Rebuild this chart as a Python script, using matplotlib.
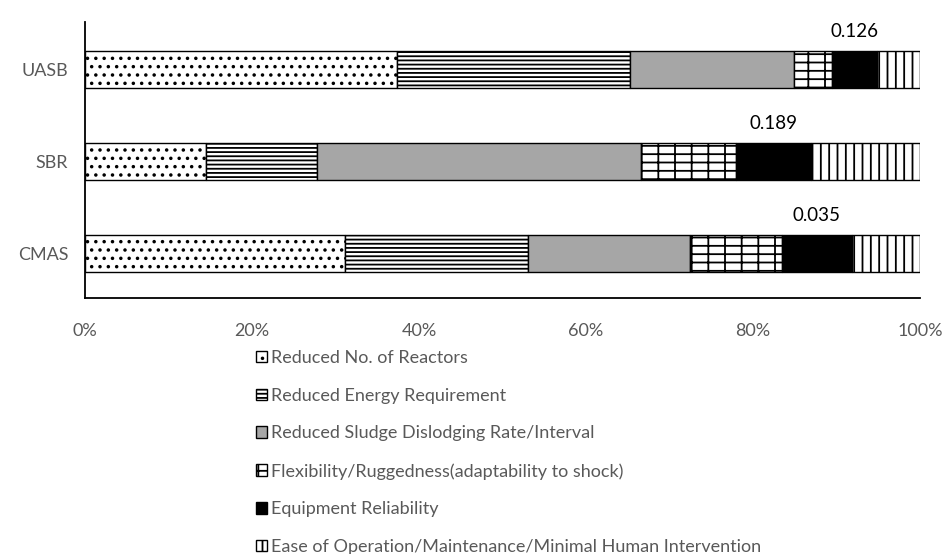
import numpy as np
import matplotlib
matplotlib.use("Agg")
import matplotlib.pyplot as plt

# Datos (porcentaje de cada criterio por sistema)
categorias = ['CMAS', 'SBR', 'UASB']
reactores = [31.1, 14.5, 37.4]
energia = [21.9, 13.3, 27.9]
lodos = [19.5, 38.8, 19.6]
flexibilidad = [11.0, 11.4, 4.6]
confiabilidad = [8.3, 9.0, 5.3]
operacion = [8.2, 13.0, 5.2]
etiquetas = ['0.035', '0.189', '0.126']

nombres = ['Reduced No. of Reactors',
           'Reduced Energy Requirement',
           'Reduced Sludge Dislodging Rate/Interval',
           'Flexibility/Ruggedness(adaptability to shock)',
           'Equipment Reliability',
           'Ease of Operation/Maintenance/Minimal Human Intervention']

plt.rcParams['font.family'] = ['Lato', 'DejaVu Sans']
plt.rcParams['hatch.linewidth'] = 1.3

series = [reactores, energia, lodos, flexibilidad, confiabilidad, operacion]
rellenos = ['white', 'white', '#a6a6a6', 'white', 'black', 'white']
tramas = ['..', '----', '', '-+', '', '||']

fig = plt.figure(figsize=(9.48, 5.54), dpi=100)
ax = fig.add_axes([85 / 948, 1 - 298 / 554, 835 / 948, 276 / 554])

y = np.arange(len(categorias))
izquierda = np.zeros(len(categorias))
for valores, nombre, color, trama in zip(series, nombres, rellenos, tramas):
    ax.barh(y, valores, height=0.4, left=izquierda, color=color,
            edgecolor='black', linewidth=1.0, hatch=trama, label=nombre)
    izquierda = izquierda + np.array(valores)

# etiquetas sobre el tramo de Equipment Reliability
inicio = np.array(reactores) + np.array(energia) + np.array(lodos) + np.array(flexibilidad)
for i, texto in enumerate(etiquetas):
    ax.text(inicio[i] + confiabilidad[i] / 2, y[i] + 0.42, texto,
            ha='center', va='center', fontsize=13.5, color='black')

ax.set_xlim(0, 100)
ax.set_ylim(-0.48, 2.52)
ax.set_yticks(y)
ax.set_yticklabels(categorias)
ax.set_xticks([0, 20, 40, 60, 80, 100])
ax.set_xticklabels(['0%', '20%', '40%', '60%', '80%', '100%'])
ax.tick_params(axis='x', length=0, pad=18, labelsize=13, labelcolor='#595959')
ax.tick_params(axis='y', length=0, pad=12, labelsize=13, labelcolor='#595959')
for lado in ['top', 'right']:
    ax.spines[lado].set_visible(False)
for lado in ['left', 'bottom']:
    ax.spines[lado].set_color('black')
    ax.spines[lado].set_linewidth(1.3)

fig.legend(loc='upper left', bbox_to_anchor=(256 / 948, 1 - 350 / 554),
           frameon=False, fontsize=13, labelcolor='#595959',
           handlelength=0.6, handleheight=0.6, handletextpad=0.25,
           labelspacing=1.2, borderpad=0, borderaxespad=0)

fig.savefig('out.png', dpi=100)
